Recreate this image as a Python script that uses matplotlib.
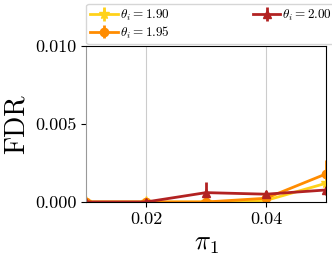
import matplotlib
matplotlib.use('Agg')
import matplotlib.pyplot as plt
from matplotlib.ticker import FormatStrFormatter

plt.rcParams['font.family'] = 'serif'
plt.rcParams['font.serif'] = ['cmr10', 'DejaVu Serif']
plt.rcParams['mathtext.fontset'] = 'cm'
plt.rcParams['axes.unicode_minus'] = False

x = [0.01, 0.02, 0.03, 0.04, 0.05]  # pi_1

fdr_190 = [0.0, 0.0, 0.0, 0.0001, 0.0012]
err_190 = [0.0, 0.0, 0.0, 0.00005, 0.0003]

fdr_195 = [0.0, 0.0, 0.0, 0.00024, 0.0018]
err_195 = [0.0, 0.0, 0.00005, 0.0001, 0.0009]

fdr_200 = [0.0, 0.0, 0.0006, 0.0005, 0.00077]
err_200 = [0.0, 0.0, 0.0007, 0.0002, 0.0003]

fig = plt.figure(figsize=(3.32, 2.63), dpi=100)
ax = fig.add_axes([0.259, 0.232, 0.723, 0.593])

ax.errorbar(x, fdr_190, yerr=err_190, color='#FFD21A', marker='*', markersize=8,
            lw=2, elinewidth=2, label=r'$\theta_i = 1.90$')
ax.errorbar(x, fdr_195, yerr=err_195, color='#FF8C00', marker='o', markersize=6,
            lw=2, elinewidth=2, label=r'$\theta_i = 1.95$')
ax.errorbar(x, fdr_200, yerr=err_200, color='#B22222', marker='^', markersize=6,
            lw=2, elinewidth=2, label=r'$\theta_i = 2.00$')

ax.set_xlim(0.01, 0.05)
ax.set_ylim(0.0, 0.010)
ax.set_xticks([0.02, 0.04])
ax.set_yticks([0.0, 0.005, 0.010])
ax.xaxis.set_major_formatter(FormatStrFormatter('%.2f'))
ax.yaxis.set_major_formatter(FormatStrFormatter('%.3f'))
ax.tick_params(labelsize=13)
ax.grid(axis='x', color='#cccccc', lw=0.8)
ax.spines['left'].set_color('#999999')

ax.set_xlabel(r'$\pi_1$', fontsize=19)
ax.set_ylabel('FDR', fontsize=20)

ax.legend(loc='lower left', bbox_to_anchor=(0.0, 1.01), ncol=2, fontsize=9.5,
          borderaxespad=0, handlelength=2.1, handletextpad=0.15,
          labelspacing=0.1, borderpad=0.3, columnspacing=6.3)

fig.savefig('out.png', dpi=100)
